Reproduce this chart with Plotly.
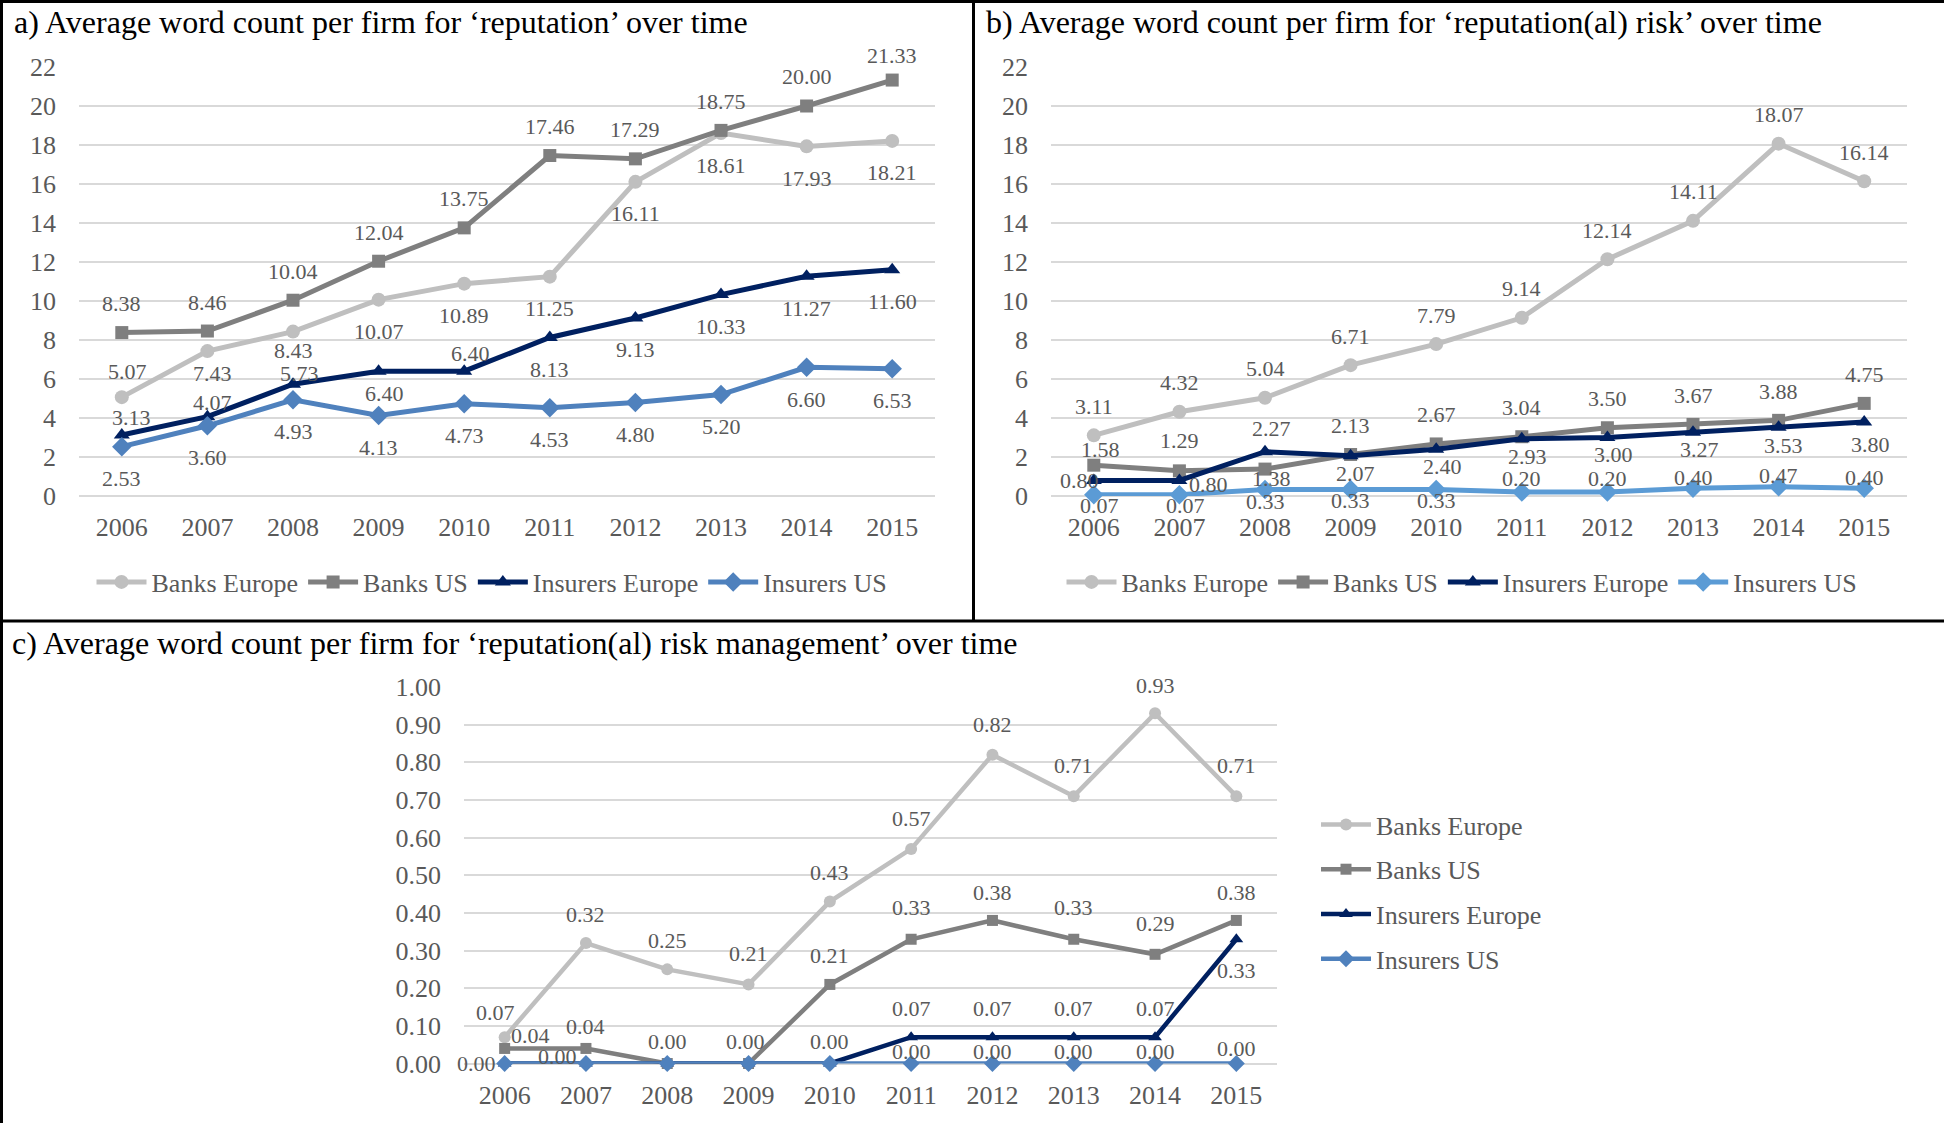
import plotly.graph_objects as go

# ---------------- data ----------------
years = ['2006', '2007', '2008', '2009', '2010', '2011', '2012', '2013', '2014', '2015']
series_names = ['Banks Europe', 'Banks US', 'Insurers Europe', 'Insurers US']

a_banks_eu = [5.07, 7.43, 8.43, 10.07, 10.89, 11.25, 16.11, 18.61, 17.93, 18.21]
a_banks_us = [8.38, 8.46, 10.04, 12.04, 13.75, 17.46, 17.29, 18.75, 20.00, 21.33]
a_ins_eu = [3.13, 4.07, 5.73, 6.40, 6.40, 8.13, 9.13, 10.33, 11.27, 11.60]
a_ins_us = [2.53, 3.60, 4.93, 4.13, 4.73, 4.53, 4.80, 5.20, 6.60, 6.53]

b_banks_eu = [3.11, 4.32, 5.04, 6.71, 7.79, 9.14, 12.14, 14.11, 18.07, 16.14]
b_banks_us = [1.58, 1.29, 1.38, 2.13, 2.67, 3.04, 3.50, 3.67, 3.88, 4.75]
b_ins_eu = [0.80, 0.80, 2.27, 2.07, 2.40, 2.93, 3.00, 3.27, 3.53, 3.80]
b_ins_us = [0.07, 0.07, 0.33, 0.33, 0.33, 0.20, 0.20, 0.40, 0.47, 0.40]

c_banks_eu = [0.07, 0.32, 0.25, 0.21, 0.43, 0.57, 0.82, 0.71, 0.93, 0.71]
c_banks_us = [0.04, 0.04, 0.00, 0.00, 0.21, 0.33, 0.38, 0.33, 0.29, 0.38]
c_ins_eu = [0.00, 0.00, 0.00, 0.00, 0.00, 0.07, 0.07, 0.07, 0.07, 0.33]
c_ins_us = [0.00, 0.00, 0.00, 0.00, 0.00, 0.00, 0.00, 0.00, 0.00, 0.00]

titles = [
    "a) Average word count per firm for \u2018reputation\u2019 over time",
    "b) Average word count per firm for \u2018reputation(al) risk\u2019 over time",
    "c) Average word count per firm for \u2018reputation(al) risk management\u2019 over time",
]

a_ticks = [0, 2, 4, 6, 8, 10, 12, 14, 16, 18, 20, 22]
c_ticks = [0.0, 0.1, 0.2, 0.3, 0.4, 0.5, 0.6, 0.7, 0.8, 0.9, 1.0]

# ---------------- styles ----------------
W, H = 1944, 1123
FONT = "Liberation Serif, Times New Roman, serif"
TXT = "#595959"
GRID = "#D9D9D9"

colors_ac = ['#BFBFBF', '#7F7F7F', '#002060', '#4F81BD']
colors_b = ['#BFBFBF', '#7F7F7F', '#002060', '#5B9BD5']
symbols = ['circle', 'square', 'triangle-up', 'diamond']
msizes_ab = [14, 13, 14, 15]
msizes_c = [12, 11, 12, 13]

# data-label offsets in px (dx, dy; dy>0 = up), None = hidden
D = (0, -32)
off_a = [
    [(6, 26), (5, -22), (0, -19), D, D, D, D, D, D, D],
    [(0, 29)] * 9 + [(0, 25)],
    [(10, 17), (5, 14), (6, 11), (6, -22), (6, 18), D, D, D, D, D],
    [D] * 10,
]
off_b = [
    [(0, 29)] * 10,
    [(7, 16), (0, 30), (6, -9), (0, 29), (0, 29), (0, 29), (0, 29), (0, 29), (0, 29), (0, 29)],
    [(-14, 0), (29, -4), (6, 23), (5, -18), (6, -17), (6, -18), (6, -17), (6, -17), (5, -18), (6, -23)],
    [(6, -11), (6, -11), (0, -12), (0, -11), (0, -11), (0, 14), (0, 14), (0, 11), (0, 11), (0, 11)],
]
off_c = [
    [(-9, 25), (0, 29), (0, 29), (0, 31), (0, 29), (0, 30), (0, 30), (0, 31), (0, 28), (0, 31)],
    [(26, 13), (0, 22), (0, 22), (-3, 22), (0, 29), (0, 32), (0, 28), (0, 32), (0, 31), (0, 28)],
    [(-28, 0), (-28, 7), None, None, (0, 22), (0, 29), (0, 29), (0, 29), (0, 29), (0, -31)],
    [None, None, None, None, None, (0, 12), (0, 12), (0, 12), (0, 12), (0, 15)],
]


def px_x(p):
    return p / W


def px_y(p):
    return 1 - p / H


fig = go.Figure()
annotations = []

panels = [
    dict(data=[a_banks_eu, a_banks_us, a_ins_eu, a_ins_us], colors=colors_ac, offs=off_a,
         xa='x', ya='y', legend='legend', lw=5, ms=msizes_ab),
    dict(data=[b_banks_eu, b_banks_us, b_ins_eu, b_ins_us], colors=colors_b, offs=off_b,
         xa='x2', ya='y2', legend='legend2', lw=5, ms=msizes_ab),
    dict(data=[c_banks_eu, c_banks_us, c_ins_eu, c_ins_us], colors=colors_ac, offs=off_c,
         xa='x3', ya='y3', legend='legend3', lw=4.5, ms=msizes_c),
]

for pi, p in enumerate(panels):
    for si, vals in enumerate(p['data']):
        fig.add_trace(go.Scatter(
            x=years, y=vals, name=series_names[si], mode='lines+markers',
            line=dict(color=p['colors'][si], width=p['lw']),
            marker=dict(symbol=symbols[si], size=p['ms'][si], color=p['colors'][si]),
            xaxis=p['xa'], yaxis=p['ya'], legend=p['legend'],
            legendgroup=f"{pi}-{si}", cliponaxis=False, hoverinfo='skip',
        ))
        # category axis: annotation positions use the category index
        for idx, (v, o) in enumerate(zip(vals, p['offs'][si])):
            if o is None:
                continue
            annotations.append(dict(
                x=idx, y=v, xref=p['xa'], yref=p['ya'], text=f"{v:.2f}", showarrow=False,
                xshift=o[0], yshift=o[1], xanchor='center', yanchor='middle',
                font=dict(family=FONT, size=22, color=TXT),
            ))

# panel titles
for t, (tx, ty) in zip(titles, [(12, 22), (984, 22), (10, 643)]):
    annotations.append(dict(
        x=px_x(tx), y=px_y(ty), xref='paper', yref='paper', text=t, showarrow=False,
        xanchor='left', yanchor='middle', font=dict(family=FONT, size=32, color='black'),
    ))

xcommon = dict(type='category', range=[-0.5, 9.5], showgrid=False, showline=False, zeroline=False,
               ticks='', tickfont=dict(family=FONT, size=26, color=TXT), ticklabelstandoff=13,
               fixedrange=True, automargin=False)
ycommon = dict(showgrid=True, gridcolor=GRID, gridwidth=2, showline=False, zeroline=True,
               zerolinecolor=GRID, zerolinewidth=2, ticks='',
               tickfont=dict(family=FONT, size=26, color=TXT), ticklabelstandoff=22,
               fixedrange=True, automargin=False)

legcommon = dict(font=dict(family=FONT, size=26, color=TXT), bgcolor='rgba(0,0,0,0)',
                 traceorder='grouped', itemwidth=50)

fig.update_layout(
    template='none',
    width=W, height=H, autosize=False,
    margin=dict(l=0, r=0, t=0, b=0, pad=0, autoexpand=False),
    paper_bgcolor='white', plot_bgcolor='white',
    font=dict(family=FONT, color=TXT),
    xaxis=dict(xcommon, domain=[px_x(79), px_x(935)], anchor='y'),
    yaxis=dict(ycommon, domain=[px_y(496), px_y(67)], range=[0, 22], tickvals=a_ticks, anchor='x'),
    xaxis2=dict(xcommon, domain=[px_x(1051), px_x(1907)], anchor='y2'),
    yaxis2=dict(ycommon, domain=[px_y(496), px_y(67)], range=[0, 22], tickvals=a_ticks, anchor='x2'),
    xaxis3=dict(xcommon, domain=[px_x(464), px_x(1277)], anchor='y3'),
    yaxis3=dict(ycommon, domain=[px_y(1063.5), px_y(687)], range=[0, 1.0], tickvals=c_ticks,
                tickformat='.2f', anchor='x3'),
    legend=dict(legcommon, orientation='h', x=px_x(492), y=px_y(582), xanchor='center',
                yanchor='middle', tracegroupgap=0),
    legend2=dict(legcommon, orientation='h', x=px_x(1462), y=px_y(582), xanchor='center',
                 yanchor='middle', tracegroupgap=0),
    legend3=dict(legcommon, orientation='v', x=px_x(1316), y=px_y(892), xanchor='left',
                 yanchor='middle', tracegroupgap=8),
    annotations=annotations,
    showlegend=True,
    shapes=[
        dict(type='line', xref='paper', yref='paper', x0=px_x(1.5), x1=px_x(1.5), y0=0, y1=1,
             line=dict(color='black', width=3)),
        dict(type='line', xref='paper', yref='paper', x0=0, x1=1, y0=px_y(1.5), y1=px_y(1.5),
             line=dict(color='black', width=3)),
        dict(type='line', xref='paper', yref='paper', x0=px_x(973.5), x1=px_x(973.5), y0=px_y(621),
             y1=1, line=dict(color='black', width=3)),
        dict(type='line', xref='paper', yref='paper', x0=0, x1=1, y0=px_y(621), y1=px_y(621),
             line=dict(color='black', width=3)),
    ],
)

fig.write_html("out.html")
